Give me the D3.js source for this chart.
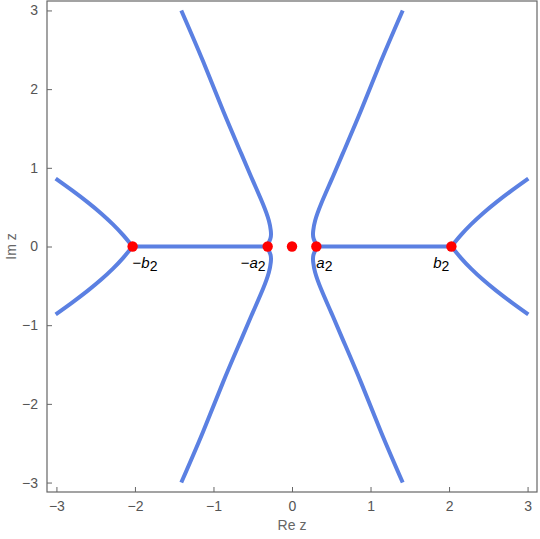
<!DOCTYPE html>
<html>
<head>
<meta charset="utf-8">
<script src="https://cdn.jsdelivr.net/npm/d3@7"></script>
<style>
  body { margin: 0; background: #fff; }
  svg { font-family: "Liberation Sans", "DejaVu Sans", sans-serif; }
  .tickLabel { fill: #555; font-size: 14px; }
  .axisTitle { fill: #666; font-size: 14px; }
  .ptLabel { fill: #000; font-size: 15px; }
</style>
</head>
<body>
<div id="chart"><svg width="540" height="539"></svg></div>
<script>

/**************
***** DATA *****
**************/

const xTicks = [-3, -2, -1, 0, 1, 2, 3];
const yTicks = [-3, -2, -1, 0, 1, 2, 3];

// inner branches (x, y)
const innerLeft = [
    [-1.41, 3.0], [-1.135, 2.36], [-0.88, 1.73], [-0.646, 1.18], [-0.50, 0.84],
    [-0.37, 0.54], [-0.295, 0.33], [-0.27, 0.20], [-0.275, 0.10], [-0.31, 0],
    [-0.275, -0.10], [-0.27, -0.20], [-0.295, -0.33], [-0.37, -0.54], [-0.50, -0.84],
    [-0.646, -1.18], [-0.88, -1.73], [-1.135, -2.36], [-1.41, -3.0]
];
const innerRight = [
    [1.41, 3.0], [1.135, 2.36], [0.88, 1.73], [0.646, 1.18], [0.50, 0.84],
    [0.37, 0.54], [0.295, 0.33], [0.27, 0.20], [0.275, 0.10], [0.31, 0],
    [0.275, -0.10], [0.27, -0.20], [0.295, -0.33], [0.37, -0.54], [0.50, -0.84],
    [0.646, -1.18], [0.88, -1.73], [1.135, -2.36], [1.41, -3.0]
];

// outer branches, meeting at +-b2
const outerLeftUp = [[-3.01, 0.864], [-2.80, 0.713], [-2.60, 0.561], [-2.43, 0.42], [-2.28, 0.281], [-2.15, 0.144], [-2.03, 0]];
const outerLeftDown = [[-3.01, -0.864], [-2.80, -0.713], [-2.60, -0.561], [-2.43, -0.42], [-2.28, -0.281], [-2.15, -0.144], [-2.03, 0]];
const outerRightUp = [[3.01, 0.864], [2.80, 0.713], [2.60, 0.561], [2.43, 0.42], [2.28, 0.281], [2.15, 0.144], [2.03, 0]];
const outerRightDown = [[3.01, -0.864], [2.80, -0.713], [2.60, -0.561], [2.43, -0.42], [2.28, -0.281], [2.15, -0.144], [2.03, 0]];

// cuts on the real axis
const cutLeft = [[-2.03, 0], [-0.31, 0]];
const cutRight = [[0.31, 0], [2.03, 0]];

// marked points on the real axis
const dotsX = [-2.03, -0.31, 0, 0.31, 2.03];

// point labels: sign, letter, which point
const ptLabels = [
    {sign: "\u2212", name: "b", sub: "2", at: -2.03, side: "right"},
    {sign: "\u2212", name: "a", sub: "2", at: -0.31, side: "left"},
    {sign: "", name: "a", sub: "2", at: 0.31, side: "right"},
    {sign: "", name: "b", sub: "2", at: 2.03, side: "left"}
];

/**********************
***** BASIC SETUP *****
**********************/

const svg = d3.select("#chart").select("svg");
const frame = {left: 47, right: 537, top: 1, bottom: 492};

const xScale = d3.scaleLinear()
    .domain([-3.12, 3.12])
    .range([frame.left, frame.right]);

const yScale = d3.scaleLinear()
    .domain([-3.12, 3.12])
    .range([frame.bottom, frame.top]);

const LINE_COLOR = "#5b80e2";
const AXIS_COLOR = "#666";

/***************
***** AXES *****
***************/

const xAxis = svg.append("g")
    .attr("transform", `translate(0, ${frame.bottom})`)
    .call(d3.axisBottom(xScale).tickValues(xTicks).tickFormat(d3.format("d"))
        .tickSizeInner(-5).tickSizeOuter(0).tickPadding(9));

const yAxis = svg.append("g")
    .attr("transform", `translate(${frame.left}, 0)`)
    .call(d3.axisLeft(yScale).tickValues(yTicks).tickFormat(d3.format("d"))
        .tickSizeInner(-5).tickSizeOuter(0).tickPadding(9));

[xAxis, yAxis].forEach(ax => {
    ax.select(".domain").remove();
    ax.selectAll(".tick line").attr("stroke", AXIS_COLOR);
    ax.selectAll(".tick text")
        .attr("class", "tickLabel")
        .attr("font-family", null)
        .attr("font-size", null)
        .attr("fill", null);
});

// frame
svg.append("rect")
    .attr("x", frame.left)
    .attr("y", frame.top)
    .attr("width", frame.right - frame.left)
    .attr("height", frame.bottom - frame.top)
    .attr("fill", "none")
    .attr("stroke", AXIS_COLOR)
    .attr("stroke-width", 1.2);

svg.append("text")
    .attr("class", "axisTitle")
    .attr("x", xScale(0))
    .attr("y", 530)
    .attr("text-anchor", "middle")
    .text("Re z");

svg.append("text")
    .attr("class", "axisTitle")
    .attr("transform", `translate(16, ${yScale(0)}) rotate(-90)`)
    .attr("text-anchor", "middle")
    .text("Im z");

/****************
***** LINES *****
****************/

const plot = svg.append("g").attr("id", "plot");

const line = d3.line()
    .x(d => xScale(d[0]))
    .y(d => yScale(d[1]))
    .curve(d3.curveNatural);

const branches = [innerLeft, innerRight, outerLeftUp, outerLeftDown,
                  outerRightUp, outerRightDown, cutLeft, cutRight];

plot.selectAll(".branch")
    .data(branches)
    .enter()
    .append("path")
    .attr("class", "branch")
    .attr("d", line)
    .attr("fill", "none")
    .attr("stroke", LINE_COLOR)
    .attr("stroke-width", 4);

plot.selectAll(".dot")
    .data(dotsX)
    .enter()
    .append("circle")
    .attr("class", "dot")
    .attr("cx", d => xScale(d))
    .attr("cy", yScale(0))
    .attr("r", 5.2)
    .attr("fill", "#ff0000");

/*********************
***** PT LABELS *****
*********************/

const labels = plot.selectAll(".ptLabel")
    .data(ptLabels)
    .enter()
    .append("text")
    .attr("class", "ptLabel")
    .attr("x", d => xScale(d.at) + (d.side === "right" ? 0 : -2))
    .attr("y", yScale(0) + 21)
    .attr("text-anchor", d => d.side === "right" ? "start" : "end");

labels.append("tspan").text(d => d.sign);
labels.append("tspan").attr("font-style", "italic").text(d => d.name);
labels.append("tspan").attr("dy", 3).attr("font-size", "14px").text(d => d.sub);

</script>
</body>
</html>
